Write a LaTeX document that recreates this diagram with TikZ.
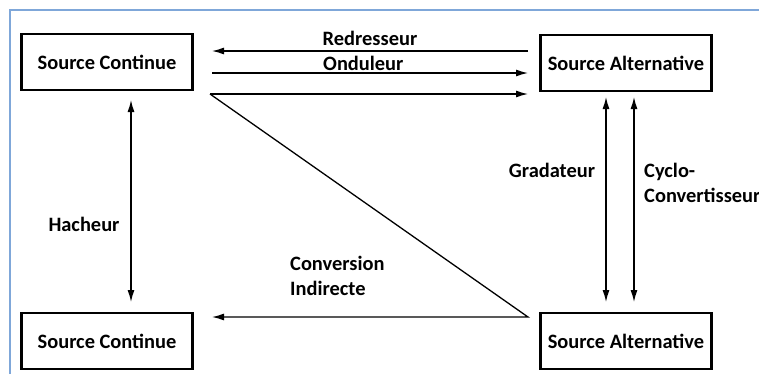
\documentclass[tikz,border=0pt]{standalone}
\usepackage{fontspec}
\setmainfont{Carlito}
\usetikzlibrary{arrows.meta}
\definecolor{framblue}{HTML}{7FA7D9}
\tikzset{
  source/.style={draw, line width=2.6bp, minimum width=171bp, minimum height=56bp,
    inner sep=0pt, font=\fontsize{20.5}{24}\selectfont\bfseries},
  conv/.style={line width=1.3bp, -{Latex[length=12bp,width=7bp]}},
  conv2/.style={line width=1.3bp, {Latex[length=12bp,width=7bp]}-{Latex[length=12bp,width=7bp]}},
  lbl/.style={inner sep=0pt, font=\fontsize{20.5}{25}\selectfont\bfseries}
}
\begin{document}
\begin{tikzpicture}[x=1bp, y=-1bp]
  \useasboundingbox (0,0) rectangle (759,374);
  \draw[framblue, line width=2bp] (10,374) -- (10,10) -- (759,10);
  % boxes
  \node[source] (dc1) at (107,62) {Source Continue};
  \node[source] (ac1) at (626,63) {Source Alternative};
  \node[source] (dc2) at (107,341) {Source Continue};
  \node[source] (ac2) at (626,341) {Source Alternative};
  % arrow ends
  \coordinate (r1) at (528,51);  \coordinate (r2) at (212,51);
  \coordinate (o1) at (212,73);  \coordinate (o2) at (528,73);
  \coordinate (i1) at (210,94);  \coordinate (i2) at (528,94);
  \coordinate (i3) at (528,317); \coordinate (i4) at (212,317);
  \coordinate (h1) at (131,100); \coordinate (h2) at (131,302);
  \coordinate (g1) at (606,97);  \coordinate (g2) at (606,302);
  \coordinate (c1) at (634,97);  \coordinate (c2) at (634,302);
  \draw[conv] (r1) -- (r2);
  \draw[conv] (o1) -- (o2);
  \draw[conv] (i1) -- (i2);
  \draw[conv] (i1) -- (i3) -- (i4);
  \draw[conv2] (h1) -- (h2);
  \draw[conv2] (g1) -- (g2);
  \draw[conv2] (c1) -- (c2);
  % labels
  \node[lbl] (red) at (370,38) {Redresseur};
  \node[lbl, anchor=west] (ond) at (323,63) {Onduleur};
  \node[lbl] (hach) at (84,224) {Hacheur};
  \node[lbl] (grad) at (552,170) {Gradateur};
  \node[lbl, anchor=west, align=left] (cyc) at (644,183) {Cyclo-\\Convertisseur};
  \node[lbl, anchor=west, align=left] (ind) at (290,276) {Conversion\\Indirecte};
\end{tikzpicture}
\end{document}
